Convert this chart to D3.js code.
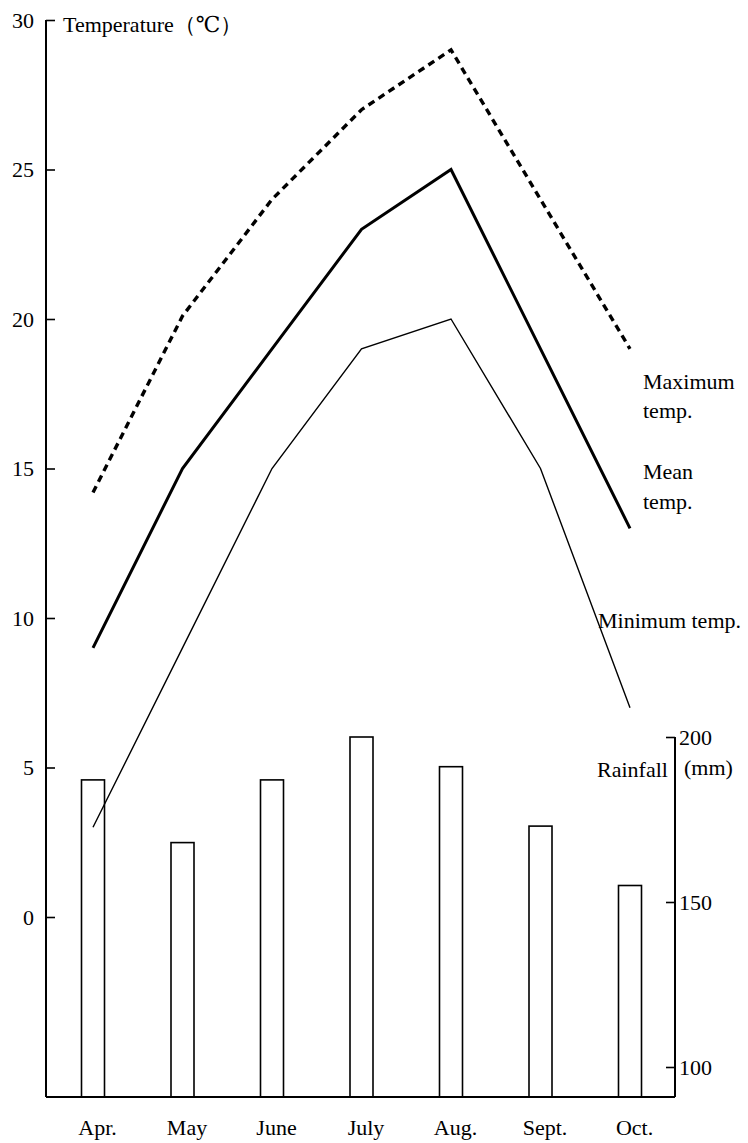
<!DOCTYPE html>
<html><head><meta charset="utf-8">
<script src="https://cdn.jsdelivr.net/npm/d3@7"></script>
<style>body{margin:0;background:#fff}svg{display:block}svg text{font-family:"Liberation Serif","DejaVu Serif","Times New Roman",serif !important;fill:#000}</style>
</head><body><script>
const months = ["Apr.","May","June","July","Aug.","Sept.","Oct."];
const maxTemp = [14.2,20.1,24,27,29,24,19];
const meanTemp = [9,15,19,23,25,19,13];
const minTemp = [3,9,15,19,20,15,7];
const rainfall = [187,168,187,200,191,173,155];
const tempTicks = [0,5,10,15,20,25,30];
const rainTicks = [100,150,200];

const W=748,H=1143;
const FONT = "'Liberation Serif','DejaVu Serif',serif";
const FS = "22px";
const svg = d3.select("body").append("svg").attr("width",W).attr("height",H);
const x = d3.scalePoint().domain(months).range([93,630]);
const yT = d3.scaleLinear().domain([0,30]).range([917,20]);
const yR = d3.scaleLinear().domain([100,200]).range([1067,737]);
const baseY = 1097, leftX = 46, rightX = 675;

// bars
svg.append("g").selectAll("rect").data(months).join("rect")
  .attr("x",(d)=>x(d)-11.5).attr("width",23)
  .attr("y",(d,i)=>yR(rainfall[i])).attr("height",(d,i)=>baseY-yR(rainfall[i]))
  .attr("fill","#fff").attr("stroke","#000").attr("stroke-width",1.6);

function styleAxis(g){
  g.attr("font-family",FONT).attr("font-size",22);
  g.select(".domain").remove();
  g.selectAll(".tick line").attr("stroke","#000").attr("stroke-width",1.6);
  g.selectAll(".tick text").style("font-family",FONT).style("font-size",FS).attr("fill","#000");
}

// left axis
const gL = svg.append("g").attr("transform",`translate(${leftX},0)`)
  .call(d3.axisLeft(yT).tickValues(tempTicks).tickSizeInner(-9).tickSizeOuter(0).tickPadding(12));
styleAxis(gL);
svg.append("line").attr("x1",leftX).attr("x2",leftX).attr("y1",yT(30)).attr("y2",baseY).attr("stroke","#000").attr("stroke-width",2);

// right axis
const gR = svg.append("g").attr("transform",`translate(${rightX},0)`)
  .call(d3.axisRight(yR).tickValues(rainTicks).tickSizeInner(-9).tickSizeOuter(0).tickPadding(4));
styleAxis(gR);
svg.append("line").attr("x1",rightX).attr("x2",rightX).attr("y1",yR(200)).attr("y2",baseY).attr("stroke","#000").attr("stroke-width",2);

// bottom axis
const gB = svg.append("g").attr("transform",`translate(0,${baseY})`)
  .call(d3.axisBottom(x).tickSize(0).tickPadding(22));
styleAxis(gB);
gB.selectAll(".tick text").attr("dx",4);
svg.append("line").attr("x1",leftX).attr("x2",rightX).attr("y1",baseY).attr("y2",baseY).attr("stroke","#000").attr("stroke-width",2);

// lines
const line = d3.line().x((d,i)=>x(months[i])).y(d=>yT(d));
svg.append("path").attr("d",line(maxTemp)).attr("fill","none").attr("stroke","#000")
  .attr("stroke-width",3.4).attr("stroke-dasharray","7,5");
svg.append("path").attr("d",line(meanTemp)).attr("fill","none").attr("stroke","#000").attr("stroke-width",3);
svg.append("path").attr("d",line(minTemp)).attr("fill","none").attr("stroke","#000").attr("stroke-width",1.4);

// labels
const lab = (t,xx,yy,anchor="start")=>svg.append("text").attr("x",xx).attr("y",yy)
  .style("font-family",FONT).style("font-size",FS).attr("text-anchor",anchor).text(t);
lab("Temperature（℃）",63,32);
lab("Maximum",643,389);
lab("temp.",643,418);
lab("Mean",643,479);
lab("temp.",643,509);
lab("Minimum temp.",598,628);
lab("Rainfall",597,777);
lab("(mm)",684,775);
</script></body></html>
